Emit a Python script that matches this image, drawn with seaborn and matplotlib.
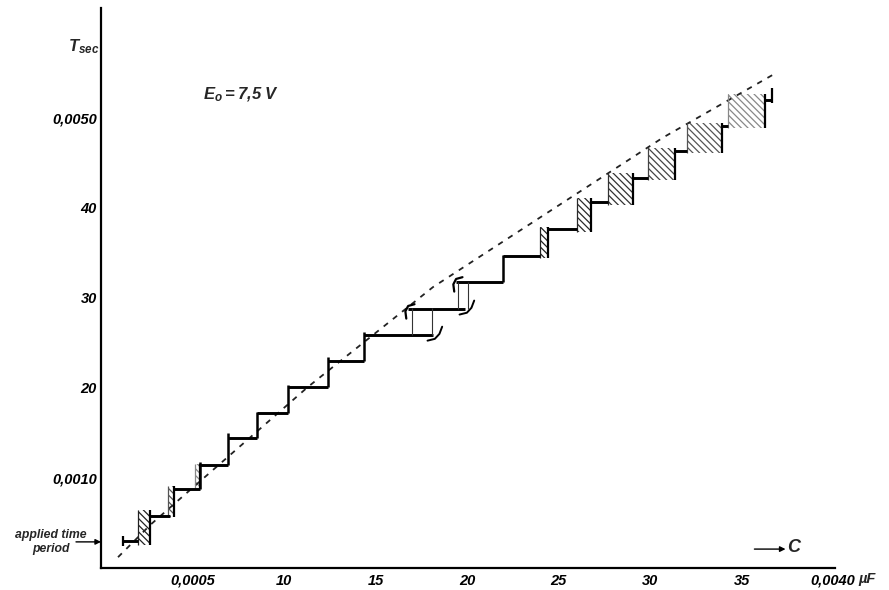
import matplotlib
matplotlib.use('Agg')
import matplotlib.pyplot as plt
from matplotlib.patches import Rectangle
import seaborn as sns

# C in units of 0.0001 uF, T in units of 0.0001 s

# dashed theoretical curve
curve_c = [0.93, 2.7, 5.0, 11.3, 18.14, 30.7, 36.9]
curve_t = [1.2, 4.8, 8.9, 20.1, 31.2, 47.8, 55.0]

# measured staircase: horizontal parts
step_t = [3.0, 5.78, 8.78, 11.44, 14.44, 17.2, 20.1, 23.0, 25.9, 28.8,
          31.8, 34.6, 37.7, 40.6, 43.3, 46.3, 49.1, 52.0]
step_c0 = [1.20, 2.68, 3.99, 5.41, 6.94, 8.52, 10.22, 12.40, 14.37, 16.78,
           19.4, 21.97, 24.43, 26.78, 29.07, 31.37, 33.93, 36.28]
step_c1 = [2.02, 3.77, 5.41, 6.94, 8.52, 10.22, 12.40, 14.37, 18.14, 19.89,
           21.97, 23.99, 26.01, 27.70, 29.89, 32.02, 34.26, 36.67]

# plain vertical jumps
riser_c = [5.41, 6.94, 8.52, 10.22, 12.40, 14.37, 21.97]
riser_lo = [8.78, 11.44, 14.44, 17.2, 20.1, 23.0, 31.8]
riser_hi = [11.8, 15.0, 17.3, 20.3, 23.4, 26.2, 34.8]

# hatched (uncertain) jump regions
block_c0 = [2.02, 3.66, 5.14, 23.99, 26.01, 27.70, 29.89, 32.02, 34.26]
block_c1 = [2.68, 3.99, 5.41, 24.43, 26.78, 29.07, 31.37, 33.93, 36.28]
block_lo = [2.56, 5.67, 8.8, 34.4, 37.3, 40.3, 43.1, 46.1, 48.9]
block_hi = [6.44, 9.11, 11.6, 37.9, 41.1, 43.9, 46.7, 49.4, 52.6]
block_tone = ['#222222', '#555555', '#888888', '#222222', '#2a2a2a',
              '#333333', '#444444', '#555555', '#888888']

# thin guide lines of the two overlapping steps
thin_c = [17.0, 18.09, 19.5, 20.05]
thin_lo = [25.9, 25.9, 28.8, 28.8]
thin_hi = [28.9, 28.9, 31.8, 31.8]

# end ticks of the staircase
tick_c = [1.20, 36.67]
tick_lo = [2.4, 51.6]
tick_hi = [3.5, 53.3]

xticks = [5, 10, 15, 20, 25, 30, 35, 40]
xlabels = ['0,0005', '10', '15', '20', '25', '30', '35', '0,0040']
yticks = [10, 20, 30, 40, 50]
ylabels = ['0,0010', '20', '30', '40', '0,0050']

applied_t = 2.9

sns.set_style('white')
plt.rcParams['font.family'] = ['Liberation Sans', 'DejaVu Sans']
plt.rcParams['font.style'] = 'italic'
plt.rcParams['font.weight'] = 'bold'
plt.rcParams['mathtext.fontset'] = 'custom'
plt.rcParams['mathtext.it'] = 'Liberation Sans:italic:bold'
plt.rcParams['mathtext.rm'] = 'Liberation Sans:italic:bold'
plt.rcParams['hatch.linewidth'] = 0.9

fig = plt.figure(figsize=(8.89, 5.90), dpi=100)
ax = fig.add_axes([0.1136, 0.0373, 0.8256, 0.9492])

sns.lineplot(x=curve_c, y=curve_t, ax=ax, color='#222222', lw=1.3, sort=False)
ax.lines[-1].set_dashes((3, 3.5))

for c0, c1, lo, hi, tone in zip(block_c0, block_c1, block_lo, block_hi, block_tone):
    ax.add_patch(Rectangle((c0, lo), c1 - c0, hi - lo, fill=False,
                           hatch='\\' * 5, edgecolor=tone, lw=0))
    ax.vlines(c0, lo, hi, color=tone, lw=0.9)
    ax.vlines(c1, lo, hi, color='black', lw=1.6)

ax.hlines(step_t, step_c0, step_c1, color='black', lw=2.1)
ax.vlines(riser_c, riser_lo, riser_hi, color='black', lw=1.8)
ax.vlines(thin_c, thin_lo, thin_hi, color='#333333', lw=0.8)
ax.vlines(tick_c, tick_lo, tick_hi, color='black', lw=1.6)

# small curved ends of the overlapping steps
for c, t in [(step_c1[8], step_t[8]), (step_c1[9], step_t[9])]:
    ax.plot([c + 0.5, c + 0.35, c + 0.1, c - 0.3], [t + 0.9, t + 0.1, t - 0.45, t - 0.65],
            color='black', lw=1.4)
for c, t in [(step_c0[9], step_t[9]), (step_c0[10], step_t[10])]:
    ax.plot([c - 0.1, c - 0.15, c, c + 0.35], [t - 1.1, t - 0.3, t + 0.3, t + 0.5],
            color='black', lw=1.6)

ax.set_xlim(0, 40.1)
ax.set_ylim(0, 62.2)
sns.despine(ax=ax)
for s in ['left', 'bottom']:
    ax.spines[s].set_linewidth(1.6)
    ax.spines[s].set_color('black')

ax.set_xticks(xticks)
ax.set_xticklabels(xlabels)
ax.set_yticks(yticks)
ax.set_yticklabels(ylabels)
ax.tick_params(direction='in', length=5, width=1, colors='black',
               labelsize=10.5, pad=3)
ax.tick_params(axis='x', pad=4)

ax.text(41.4, -0.019, 'µF', ha='left', va='center', fontsize=10.5,
        transform=ax.get_xaxis_transform(), clip_on=False)

ax.text(-0.1, 57.9, '$T_{sec}$', ha='right', va='center', fontsize=12, clip_on=False)
ax.text(5.6, 52.6, '$E_o = 7{,}5\\;V$', ha='left', va='center', fontsize=12)

ax.annotate('', xy=(0, applied_t), xytext=(-18, 0), textcoords='offset points',
            arrowprops=dict(arrowstyle='-|>', color='black', lw=1.0,
                            mutation_scale=8, shrinkA=0, shrinkB=0),
            annotation_clip=False)
ax.annotate('applied time\nperiod', xy=(0, applied_t), xytext=(-36, 0),
            textcoords='offset points', ha='center', va='center',
            fontsize=8.8, linespacing=1.25, annotation_clip=False)

ax.annotate('', xy=(37.4, 2.1), xytext=(35.7, 2.1),
            arrowprops=dict(arrowstyle='-|>', color='black', lw=1.0,
                            mutation_scale=8, shrinkA=0, shrinkB=0))
ax.text(37.5, 2.3, 'C', ha='left', va='center', fontsize=13)

fig.savefig('out.png', dpi=100)
